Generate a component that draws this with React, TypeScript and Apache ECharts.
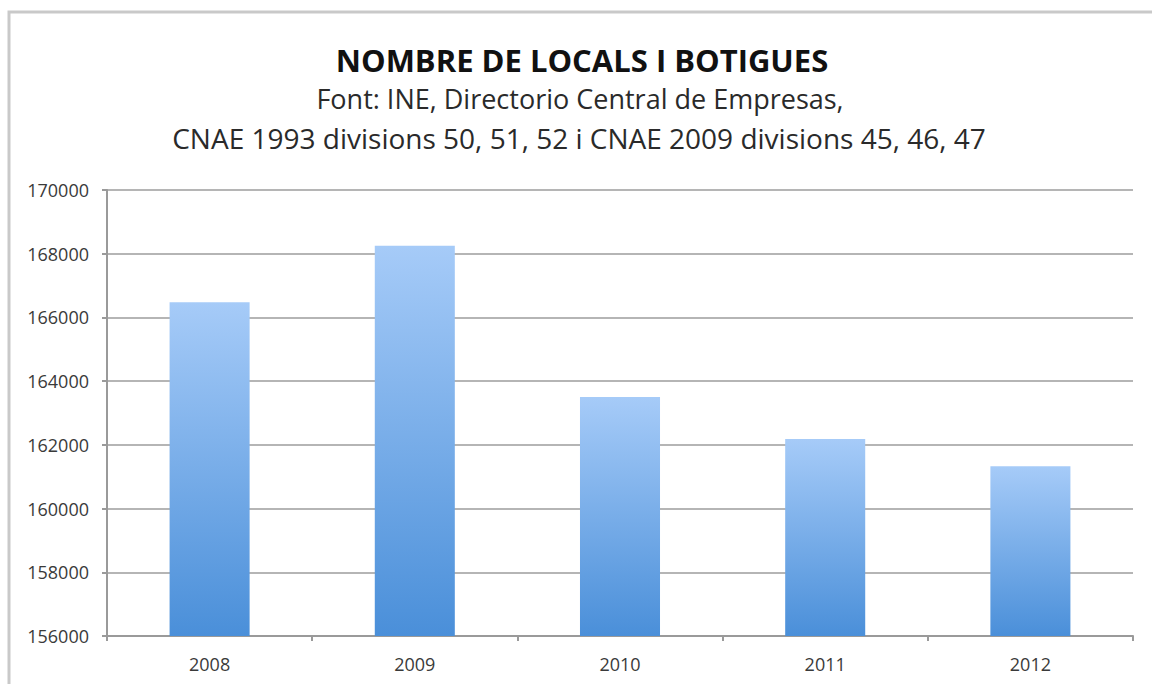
import React, { useEffect, useRef } from "react";
import * as echarts from "echarts";

const categories = ["2008", "2009", "2010", "2011", "2012"];
const values = [166480, 168250, 163500, 162180, 161330];
const yMin = 156000;
const yMax = 170000;
const yInterval = 2000;

const titleText = "NOMBRE DE LOCALS I BOTIGUES";
const subLine1 = "Font: INE, Directorio Central de Empresas,";
const subLine2 = "CNAE 1993 divisions 50, 51, 52 i CNAE 2009 divisions 45, 46, 47";

export default function App() {
  const ref = useRef<HTMLDivElement>(null);
  useEffect(() => {
    if (!ref.current) return;
    const chart = echarts.init(ref.current, null, { renderer: "svg" });
    const font = "'Open Sans', sans-serif";
    chart.setOption({
      animation: false,
      backgroundColor: "#ffffff",
      graphic: [
        {
          type: "rect",
          shape: { x: 9, y: 12, width: 1160, height: 700 },
          style: { fill: "none", stroke: "#c9c9c9", lineWidth: 3 },
          silent: true,
        },
        {
          type: "text",
          x: 582,
          y: 60,
          style: {
            text: titleText,
            fontFamily: font,
            fontWeight: "bold",
            fontSize: 31,
            fill: "#111111",
            align: "center",
            verticalAlign: "middle",
          },
        },
        {
          type: "text",
          x: 580,
          y: 98,
          style: {
            text: subLine1,
            fontFamily: font,
            fontSize: 27,
            fill: "#2a2a2a",
            align: "center",
            verticalAlign: "middle",
          },
        },
        {
          type: "text",
          x: 579,
          y: 138,
          style: {
            text: subLine2,
            fontFamily: font,
            fontSize: 28,
            fill: "#2a2a2a",
            align: "center",
            verticalAlign: "middle",
          },
        },
      ],
      grid: { left: 107, right: 19, top: 190, bottom: 48, containLabel: false },
      xAxis: {
        type: "category",
        data: categories,
        boundaryGap: true,
        axisLine: { show: true, lineStyle: { color: "#9a9a9a", width: 2 } },
        axisTick: { show: true, length: 5, lineStyle: { color: "#9a9a9a", width: 2 } },
        axisLabel: { fontFamily: font, fontSize: 18, color: "#3a3a3a", margin: 19 },
        splitLine: { show: false },
      },
      yAxis: {
        type: "value",
        min: yMin,
        max: yMax,
        interval: yInterval,
        axisLine: { show: true, lineStyle: { color: "#9a9a9a", width: 2 } },
        axisTick: { show: true, length: 5, lineStyle: { color: "#9a9a9a", width: 2 } },
        axisLabel: {
          fontFamily: font,
          fontSize: 18,
          color: "#3a3a3a",
          margin: 18,
          formatter: (v: number) => String(v),
        },
        splitLine: { show: true, lineStyle: { color: "#b5b5b5", width: 2 } },
      },
      series: [
        {
          type: "bar",
          data: values,
          barWidth: "39%",
          itemStyle: {
            color: new echarts.graphic.LinearGradient(0, 0, 0, 1, [
              { offset: 0, color: "#a6cbf8" },
              { offset: 1, color: "#4a8fd9" },
            ]),
          },
        },
      ],
    });
    return () => chart.dispose();
  }, []);
  return (
    <div
      ref={ref}
      style={{ position: "fixed", left: 0, top: 0, width: 1152, height: 684 }}
    />
  );
}
